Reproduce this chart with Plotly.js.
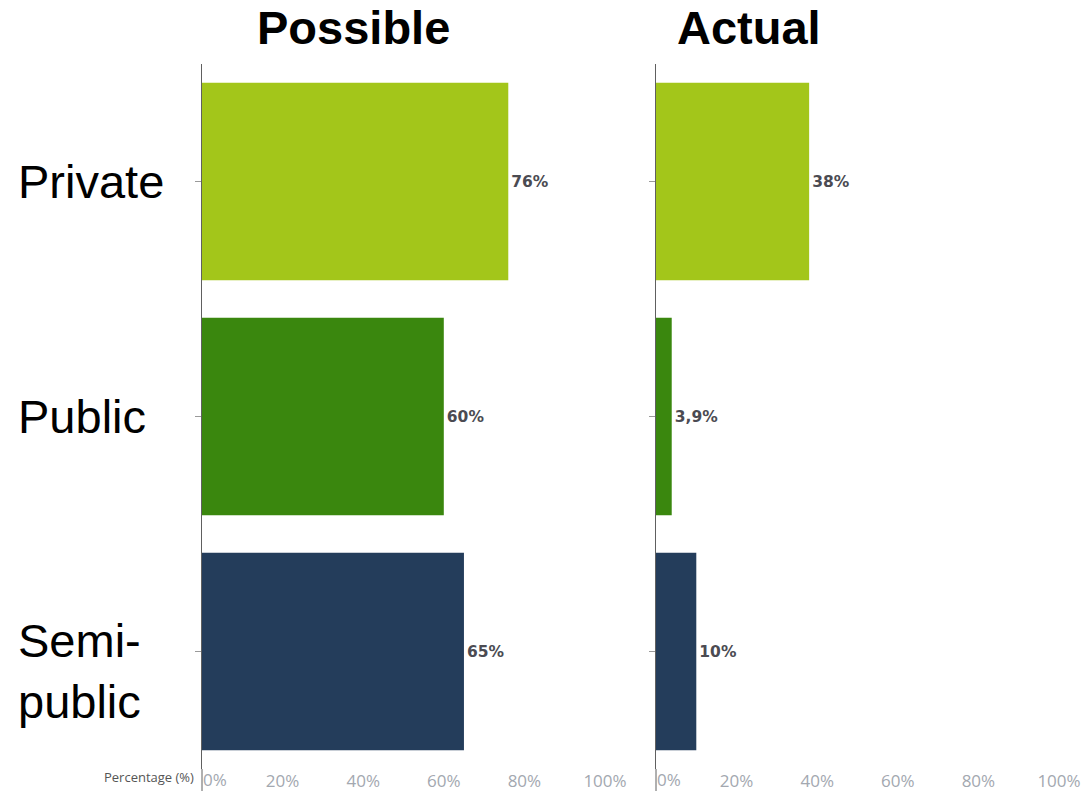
<!DOCTYPE html>
<html>
<head>
<meta charset="utf-8">
<script src="https://cdn.plot.ly/plotly-3.0.1.min.js"></script>
<style>html,body{margin:0;padding:0;background:#fff;}#chart{width:1090px;height:791px;}</style>
</head>
<body>
<div id="chart"></div>
<script>
const categories = ["Private", "Public", "Semi-public"];
const categoryLabels = ["Private", "Public", "Semi-<br>public"];
const possibleValues = [76, 60, 65];
const possibleLabels = ["76%", "60%", "65%"];
const actualValues = [38, 3.9, 10];
const actualLabels = ["38%", "3,9%", "10%"];
const barColors = ["#a3c61a", "#3a870e", "#243d5b"];
const tickValues = [20, 40, 60, 80, 100];
const tickLabels = ["20%", "40%", "60%", "80%", "100%"];
const zeroTick = {value: 0, label: "0%"};
const panelTitles = ["Possible", "Actual"];

const labelFont = {family: "'DejaVu Sans', sans-serif", size: 15.5, color: "#4b4b52", weight: "bold"};

const traces = [
  {
    type: "bar", orientation: "h",
    y: categories, x: possibleValues,
    text: possibleLabels, textposition: "outside", textfont: labelFont,
    cliponaxis: false,
    marker: {color: barColors},
    xaxis: "x", yaxis: "y", hoverinfo: "none"
  },
  {
    type: "bar", orientation: "h",
    y: categories, x: actualValues,
    text: actualLabels, textposition: "outside", textfont: labelFont,
    cliponaxis: false,
    marker: {color: barColors},
    xaxis: "x2", yaxis: "y2", hoverinfo: "none"
  }
];

const W = 1090, H = 791;
const d1 = [202 / W, 605 / W];
const d2 = [656 / W, 1059 / W];
const tickFont = {family: "'Open Sans', sans-serif", size: 17, color: "#a3a8b0"};

const xCommon = {
  range: [0, 100], tickvals: tickValues, ticktext: tickLabels,
  showgrid: false, zeroline: false, showline: false, ticks: "",
  tickfont: tickFont,
  ticklabelstandoff: 0,
  fixedrange: true
};
const yCommon = {
  type: "category", categoryorder: "array", categoryarray: categories,
  autorange: "reversed", showgrid: false, zeroline: false,
  showline: true, linecolor: "#606060", linewidth: 1,
  ticks: "outside", ticklen: 6, tickcolor: "#9a9a9a", tickwidth: 1,
  showticklabels: false, fixedrange: true
};

const catFont = {family: "'Liberation Sans', Arial, sans-serif", size: 47, color: "#000"};
const annotations = [];
categories.forEach((c, i) => {
  annotations.push({
    xref: "paper", yref: "y", x: 16 / W, y: c, xanchor: "left", yanchor: "middle",
    yshift: i === 2 ? -19 : 0,
    text: categoryLabels[i], showarrow: false, align: "left",
    font: catFont
  });
});
annotations.push({
  xref: "paper", yref: "paper", x: 353 / W, y: 1, yshift: 37, xanchor: "center", yanchor: "middle",
  text: "<b>" + panelTitles[0] + "</b>", showarrow: false,
  font: {family: "'Liberation Sans', Arial, sans-serif", size: 47, color: "#000"}
});
annotations.push({
  xref: "paper", yref: "paper", x: 749 / W, y: 1, yshift: 37, xanchor: "center", yanchor: "middle",
  text: "<b>" + panelTitles[1] + "</b>", showarrow: false,
  font: {family: "'Liberation Sans', Arial, sans-serif", size: 47, color: "#000"}
});
annotations.push({
  xref: "paper", yref: "paper", x: 196 / W, y: 0, yshift: -8, xanchor: "right", yanchor: "middle",
  text: "Percentage (%)", showarrow: false,
  font: {family: "'Open Sans', sans-serif", size: 13, color: "#555"}
});
["x", "x2"].forEach(ax => {
  annotations.push({
    xref: ax, yref: "paper", x: zeroTick.value, y: 0, yshift: -10, xanchor: "left", yanchor: "middle",
    text: zeroTick.label, showarrow: false, font: tickFont, borderpad: 0
  });
});

const layout = {
  width: W, height: H,
  margin: {l: 0, r: 0, t: 64, b: 22},
  paper_bgcolor: "#fff", plot_bgcolor: "#fff",
  showlegend: false, bargap: 0.16,
  xaxis: Object.assign({}, xCommon, {domain: d1, anchor: "y"}),
  xaxis2: Object.assign({}, xCommon, {domain: d2, anchor: "y2"}),
  yaxis: Object.assign({}, yCommon, {anchor: "x"}),
  yaxis2: Object.assign({}, yCommon, {anchor: "x2"}),
  annotations: annotations,
  shapes: [
    {type: "line", xref: "paper", yref: "paper", x0: d1[0], x1: d1[0], y0: -0.04, y1: 0, line: {color: "#606060", width: 1}},
    {type: "line", xref: "paper", yref: "paper", x0: d2[0], x1: d2[0], y0: -0.04, y1: 0, line: {color: "#606060", width: 1}}
  ]
};

Plotly.newPlot("chart", traces, layout, {displayModeBar: false, staticPlot: true});
</script>
</body>
</html>
